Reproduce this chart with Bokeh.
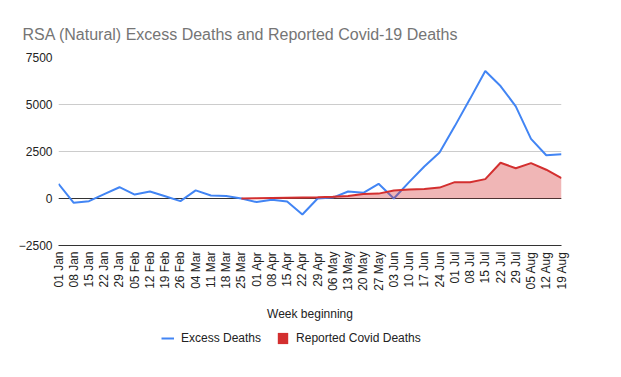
import math
from bokeh.plotting import figure
from bokeh.layouts import column
from bokeh.models import (ColumnDataSource, Range1d, FixedTicker, Legend, LegendItem, Span)
from bokeh.embed import file_html
from bokeh.resources import INLINE

weeks = ["01 Jan", "08 Jan", "15 Jan", "22 Jan", "29 Jan", "05 Feb", "12 Feb", "19 Feb",
         "26 Feb", "04 Mar", "11 Mar", "18 Mar", "25 Mar", "01 Apr", "08 Apr", "15 Apr",
         "22 Apr", "29 Apr", "06 May", "13 May", "20 May", "27 May", "03 Jun", "10 Jun",
         "17 Jun", "24 Jun", "01 Jul", "08 Jul", "15 Jul", "22 Jul", "29 Jul", "05 Aug",
         "12 Aug", "19 Aug"]

excess_deaths = [780, -230, -140, 230, 600, 210, 370, 120, -140, 430, 160, 130, 0,
                 -190, -70, -160, -850, 0, 50, 370, 300, 780, 0, 870, 1700, 2450,
                 3850, 5300, 6780, 5980, 4900, 3170, 2300, 2360]

covid_deaths = [None] * 12 + [0, 10, 25, 40, 50, 60, 90, 130, 240, 260, 430, 480, 500,
                              580, 870, 870, 1030, 1900, 1610, 1880, 1530, 1080]

y_ticks = [-2500, 0, 2500, 5000, 7500]

BLUE = "#4285f4"
RED = "#d32f2f"
FONT = "Liberation Sans"

xs = list(range(len(weeks)))
excess_src = ColumnDataSource(dict(x=xs, y=excess_deaths))
cx = [i for i, v in enumerate(covid_deaths) if v is not None]
cy = [v for v in covid_deaths if v is not None]
covid_src = ColumnDataSource(dict(x=cx, y=cy, base=[0] * len(cx)))

p = figure(width=613, height=325, output_backend="svg", toolbar_location=None,
           x_range=Range1d(0, len(weeks) - 1), y_range=Range1d(y_ticks[0], y_ticks[-1]),
           min_border_left=58, min_border_right=52, min_border_top=57,
           min_border_bottom=80,
           title="RSA (Natural) Excess Deaths and Reported Covid-19 Deaths")
p.outline_line_color = None
p.background_fill_color = "white"
p.border_fill_color = "white"

p.title.text_font = FONT
p.title.text_font_size = "16px"
p.title.text_font_style = "normal"
p.title.text_color = "#757575"
p.title.offset = -36
p.title.standoff = 29

# axes
p.xaxis.ticker = FixedTicker(ticks=xs)
p.xaxis.major_label_overrides = {i: w for i, w in enumerate(weeks)}
p.xaxis.major_label_orientation = math.pi / 2
p.xaxis.major_tick_line_color = None
p.xaxis.minor_tick_line_color = None
p.xaxis.major_tick_out = 0
p.xaxis.major_label_standoff = 6
p.xaxis.axis_line_color = "#333333"
p.xaxis.axis_label = "Week beginning"
p.xaxis.axis_label_standoff = 13
p.xaxis.axis_label_text_font = FONT
p.xaxis.axis_label_text_font_size = "12px"
p.xaxis.axis_label_text_font_style = "normal"
p.xaxis.axis_label_text_color = "#222222"

p.yaxis.ticker = FixedTicker(ticks=y_ticks)
p.yaxis.axis_line_color = None
p.yaxis.major_tick_line_color = None
p.yaxis.minor_tick_line_color = None
p.yaxis.major_tick_out = 0
p.yaxis.major_label_standoff = 6

for ax in (p.xaxis, p.yaxis):
    ax.major_label_text_font = FONT
    ax.major_label_text_font_size = "12px"
    ax.major_label_text_color = "#222222"

p.xgrid.grid_line_color = None
p.ygrid.ticker = FixedTicker(ticks=y_ticks)
p.ygrid.grid_line_color = "#cccccc"
p.ygrid.grid_line_width = 1

p.add_layout(Span(location=0, dimension="width", line_color="#333333",
                  line_width=1, level="underlay"))

# data
p.line("x", "y", source=excess_src, line_color=BLUE, line_width=2)
p.varea(x="x", y1="base", y2="y", source=covid_src, fill_color=RED, fill_alpha=0.35)
p.line("x", "y", source=covid_src, line_color=RED, line_width=2)

# legend strip below the chart
lg = figure(width=613, height=44, output_backend="svg", toolbar_location=None,
            x_range=Range1d(0, len(weeks) - 1), y_range=Range1d(y_ticks[0], y_ticks[-1]),
            x_axis_location=None, y_axis_location=None,
            min_border_left=0, min_border_right=0, min_border_top=0, min_border_bottom=0)
lg.outline_line_color = None
lg.grid.visible = False
lg.background_fill_color = "white"
lg.border_fill_color = "white"
blue_proxy = lg.line("x", "y", source=excess_src, line_color=BLUE, line_width=2,
                     visible=False)
red_proxy = lg.varea(x="x", y1="base", y2="y", source=covid_src, fill_color=RED,
                     fill_alpha=1.0, visible=False)

legend = Legend(items=[LegendItem(label="Excess Deaths", renderers=[blue_proxy]),
                       LegendItem(label="Reported Covid Deaths", renderers=[red_proxy])],
                orientation="horizontal", location=(103, 24),
                label_text_font=FONT, label_text_font_size="12px",
                label_text_color="#222222", glyph_width=13, glyph_height=14,
                label_standoff=7, spacing=15, padding=4, margin=0,
                border_line_color=None, background_fill_alpha=0)
lg.add_layout(legend, "center")

layout = column(p, lg, spacing=0)
open("out.html", "w").write(file_html(layout, INLINE))
